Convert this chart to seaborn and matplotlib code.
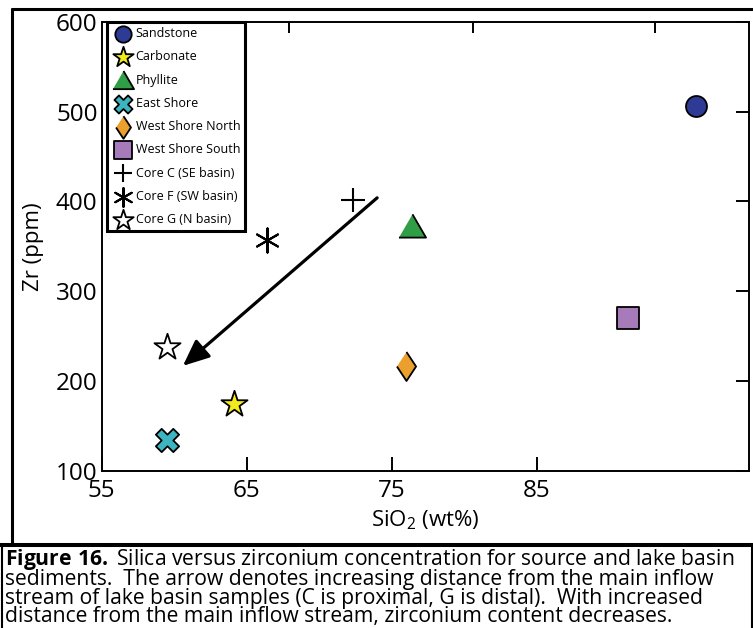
import matplotlib
matplotlib.use("Agg")
import matplotlib.pyplot as plt
import seaborn as sns
from matplotlib.lines import Line2D

# 数据
sample_names = ["Sandstone", "Carbonate", "Phyllite", "East Shore", "West Shore North",
                "West Shore South", "Core C (SE basin)", "Core F (SW basin)", "Core G (N basin)"]
sio2 = [96.0, 64.1, 76.4, 59.5, 76.0, 91.3, 72.3, 66.4, 59.5]
zr = [506, 175, 373, 134, 217, 270, 402, 357, 238]

x_ticks = [55, 65, 75, 85]
y_ticks = [100, 200, 300, 400, 500, 600]
top_tick_marks = [67.9, 80.6, 93.2]

# 箭头：C（近）-> G（远）
arrow_start = (74.0, 404)
arrow_end = (60.6, 217)

caption_lines = [
    r"$\bf{Figure\ 16.}$ Silica versus zirconium concentration for source and lake basin",
    "sediments.  The arrow denotes increasing distance from the main inflow",
    "stream of lake basin samples (C is proximal, G is distal).  With increased",
    "distance from the main inflow stream, zirconium content decreases.",
]

# 样式
tri = [(-1, -0.82), (1, -0.82), (0, 0.9)]
thin_diamond = [(0, 1), (0.66, 0), (0, -1), (-0.66, 0)]
styles = {
    "Sandstone": dict(marker="o", s=228, color="#2E3B95"),
    "Carbonate": dict(marker="*", s=390, color="#F3EC1C"),
    "Phyllite": dict(marker=tri, s=380, color="#2F9E44"),
    "East Shore": dict(marker="X", s=280, color="#3DB5C1"),
    "West Shore North": dict(marker=thin_diamond, s=436, color="#EBA02D"),
    "West Shore South": dict(marker="s", s=250, color="#A77BBA"),
    "Core C (SE basin)": dict(marker="+", s=300, color="black"),
    "Core F (SW basin)": dict(marker=(6, 2, 0), s=300, color="black"),
    "Core G (N basin)": dict(marker="*", s=390, color="white"),
}

sns.set_theme(style="white")
plt.rcParams["font.family"] = ["Open Sans", "DejaVu Sans"]
plt.rcParams["mathtext.fontset"] = "custom"
plt.rcParams["mathtext.rm"] = "Open Sans"
plt.rcParams["mathtext.it"] = "Open Sans:italic"
plt.rcParams["mathtext.bf"] = "Open Sans:bold"
plt.rcParams["text.color"] = "black"
plt.rcParams["axes.labelcolor"] = "black"

W, H = 753, 628


def px(x, y):
    return (x / W, 1 - y / H)


def plot_zr_sio2():
    fig = plt.figure(figsize=(W / 100, H / 100), dpi=100)
    ax = fig.add_axes([101.7 / W, 1 - 471 / H, (749 - 101.7) / W, (471 - 21.7) / H])

    # 散点
    for name, x, y in zip(sample_names, sio2, zr):
        st = styles[name]
        if st["marker"] in ("+", (6, 2, 0)):
            sns.scatterplot(x=[x], y=[y], marker=st["marker"], s=st["s"], color=st["color"],
                            linewidth=1.5, label=name, ax=ax, zorder=3)
        else:
            sns.scatterplot(x=[x], y=[y], marker=st["marker"], s=st["s"], color=st["color"],
                            edgecolor="black", linewidth=1.3, label=name, ax=ax, zorder=3)

    # 箭头
    ax.annotate("", xy=arrow_end, xytext=arrow_start,
                arrowprops=dict(arrowstyle="-|>,head_length=0.8,head_width=0.35",
                                mutation_scale=20, lw=2.3, color="black",
                                shrinkA=0, shrinkB=0), zorder=2)

    ax.set_xlim(55, 99.65)
    ax.set_ylim(100, 600)
    ax.set_xticks(x_ticks)
    ax.set_yticks(y_ticks)
    # 顶部刻度（与底部不对齐），用次刻度画
    ax.set_xticks(top_tick_marks, minor=True)
    ax.tick_params(axis="x", which="major", direction="in", length=10, width=1.4,
                   labelsize=17.5, pad=6, bottom=True, top=False, colors="black")
    ax.tick_params(axis="x", which="minor", direction="in", length=8, width=1.4,
                   bottom=False, top=True, labelbottom=False, labeltop=False,
                   colors="black")
    ax.tick_params(axis="y", direction="in", length=9.4, width=1.4, labelsize=17.5,
                   pad=3, left=False, right=True, labelleft=True, colors="black")
    for t in ax.yaxis.get_major_ticks():
        if t.get_loc() == 500:
            t.tick2line.set_markersize(17)

    for sp in ax.spines.values():
        sp.set_linewidth(1.4)
        sp.set_color("black")

    ax.set_xlabel(r"SiO$_2$ (wt%)", fontsize=16)
    ax.set_ylabel("Zr (ppm)", fontsize=16)
    ax.xaxis.set_label_coords(0.5, -(520 - 471) / 449.3)
    ax.xaxis.label.set_va("center")
    ax.yaxis.set_label_coords((33 - 101.7) / 647.3, 0.5)
    ax.yaxis.label.set_va("center")

    # 图例
    leg = ax.legend(loc="upper left", bbox_to_anchor=(0.008, 0.999), borderaxespad=0,
                    fontsize=9, markerscale=0.78, frameon=True, fancybox=False,
                    edgecolor="black", framealpha=1, handlelength=1.7, handletextpad=0.2,
                    borderpad=0.4, labelspacing=0.82)
    leg.get_frame().set_linewidth(2.2)

    # 外框与图注
    lines = [((12, 9), (753, 9), 2.2), ((12, 9), (12, 545), 2.2),
             ((0, 545), (753, 545), 2.9), ((1.5, 545), (1.5, 628), 1.5),
             ((751.5, 545), (751.5, 628), 1.5)]
    for p0, p1, lw in lines:
        a, b = px(*p0), px(*p1)
        fig.add_artist(Line2D([a[0], b[0]], [a[1], b[1]], transform=fig.transFigure,
                              color="black", lw=lw))

    fig.text(5 / W, 1 - 547 / H, "\n".join(caption_lines), fontsize=15.2, va="top",
             ha="left", color="black", linespacing=0.83)

    fig.savefig("out.png", dpi=100)
    plt.close(fig)


if __name__ == "__main__":
    plot_zr_sio2()
